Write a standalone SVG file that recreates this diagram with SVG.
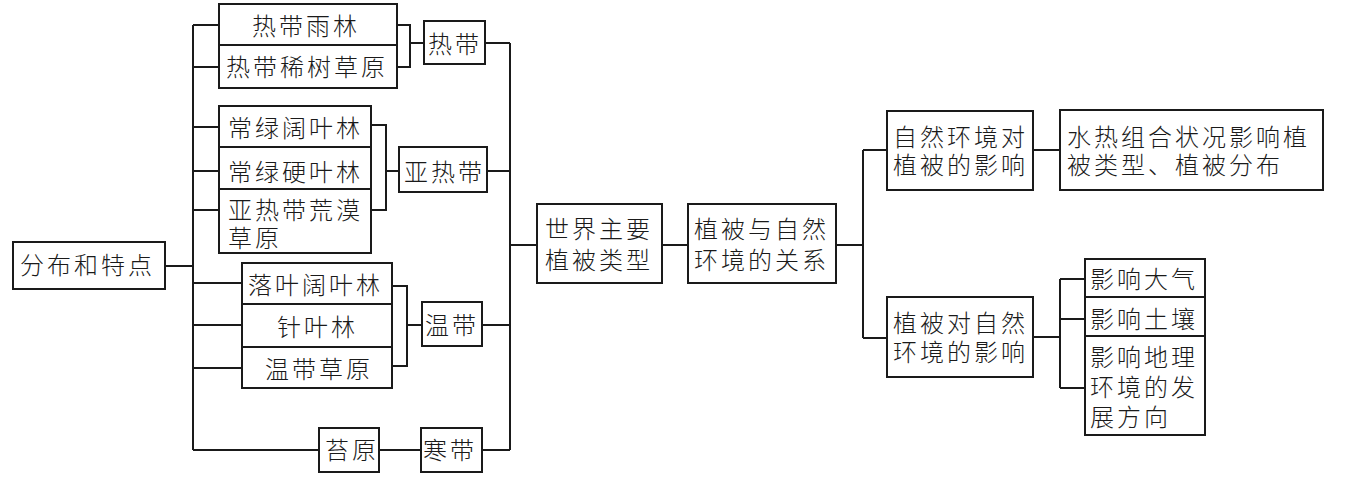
<svg xmlns="http://www.w3.org/2000/svg" width="1346" height="478" viewBox="0 0 1346 478">
<style>
rect{fill:#fff;stroke:#1a1a1a;stroke-width:2}
.c path{fill:none;stroke:#1a1a1a;stroke-width:2}
text{font-family:"Noto Sans CJK SC","Noto Sans CJK JP",sans-serif;font-size:24px;font-weight:300;letter-spacing:3px;fill:#1a1a1a}
</style>
<rect width="1346" height="478" style="fill:#fff;stroke:none"/>
<g class="c">
<path d="M165 266H193M193 25V450M193 25H219M193 67H219M193 127H219M193 171H219M193 210H219M193 283H242M193 325H242M193 368H242M193 450H319"/>
<path d="M397 25H410V67H397M410 43H424"/>
<path d="M371 125H386V210H371M386 171H399"/>
<path d="M392 286H407V366H392M407 325H422"/>
<path d="M379 450H421"/>
<path d="M485 43H510M487 171H510M482 325H510M482 450H510M510 43V450M510 245H537"/>
<path d="M662 245H688"/>
<path d="M836 245H863M863 150V338M863 150H887M863 338H887"/>
<path d="M1033 150H1060"/>
<path d="M1033 337H1060M1060 279V388M1060 279H1085M1060 319H1085M1060 388H1085"/>
</g>
<g id="n-fenbu"><rect x="13" y="242" width="152" height="47"/><text x="20" y="274">分布和特点</text></g>
<g id="n-rdyl"><rect x="219" y="4" width="178" height="41"/><text x="252" y="35">热带雨林</text></g>
<g id="n-rdxs"><rect x="219" y="45" width="178" height="43"/><text x="226" y="76">热带稀树草原</text></g>
<g id="n-redai"><rect x="424" y="21" width="61" height="43"/><text x="428" y="53">热带</text></g>
<g id="n-clkyl"><rect x="219" y="106" width="152" height="41"/><text x="228" y="137">常绿阔叶林</text></g>
<g id="n-clyyl"><rect x="219" y="147" width="152" height="42"/><text x="228" y="181">常绿硬叶林</text></g>
<g id="n-yrdhm"><rect x="219" y="189" width="152" height="64"/><text x="228" y="219">亚热带荒漠<tspan x="228" dy="28">草原</tspan></text></g>
<g id="n-yaredai"><rect x="399" y="147" width="88" height="45"/><text x="404" y="181">亚热带</text></g>
<g id="n-lykyl"><rect x="242" y="263" width="150" height="41"/><text x="248" y="294">落叶阔叶林</text></g>
<g id="n-zyl"><rect x="242" y="304" width="150" height="43"/><text x="277" y="336">针叶林</text></g>
<g id="n-wdcy"><rect x="242" y="347" width="150" height="41"/><text x="265" y="378">温带草原</text></g>
<g id="n-wendai"><rect x="422" y="302" width="60" height="44"/><text x="425" y="334">温带</text></g>
<g id="n-taiyuan"><rect x="319" y="428" width="60" height="44"/><text x="325" y="459">苔原</text></g>
<g id="n-handai"><rect x="421" y="428" width="61" height="44"/><text x="423" y="459">寒带</text></g>
<g id="n-shijie"><rect x="537" y="204" width="125" height="79"/><text x="545" y="238">世界主要<tspan x="545" dy="31">植被类型</tspan></text></g>
<g id="n-guanxi"><rect x="688" y="204" width="148" height="79"/><text x="694" y="238">植被与自然<tspan x="694" dy="31">环境的关系</tspan></text></g>
<g id="n-zrhj"><rect x="887" y="111" width="146" height="79"/><text x="893" y="146">自然环境对<tspan x="893" dy="28">植被的影响</tspan></text></g>
<g id="n-shuire"><rect x="1060" y="110" width="263" height="80"/><text x="1067" y="146">水热组合状况影响植<tspan x="1067" dy="28">被类型、植被分布</tspan></text></g>
<g id="n-zbd"><rect x="887" y="297" width="146" height="80"/><text x="893" y="332">植被对自然<tspan x="893" dy="29">环境的影响</tspan></text></g>
<g id="n-dq"><rect x="1085" y="259" width="120" height="38"/><text x="1090" y="288">影响大气</text></g>
<g id="n-tr"><rect x="1085" y="297" width="120" height="39"/><text x="1090" y="328">影响土壤</text></g>
<g id="n-dl"><rect x="1085" y="336" width="120" height="99"/><text x="1090" y="366">影响地理<tspan x="1090" dy="30">环境的发</tspan><tspan x="1090" dy="30">展方向</tspan></text></g>
</svg>
